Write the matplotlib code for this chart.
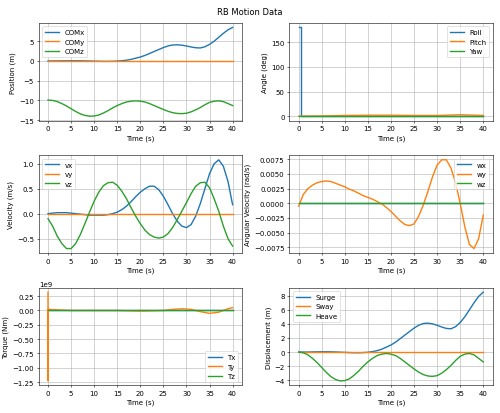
import numpy as np
from matplotlib import pyplot as plt

t = np.arange(0, 41)

com_x = [0, 0, 0, 0.02, 0.03, 0.04, 0.04, 0.03, 0.01, -0.02, -0.05, -0.08, -0.1, -0.1, -0.08, -0.03,
         0.06, 0.2, 0.4, 0.7, 1.0, 1.4, 1.9, 2.4, 2.9, 3.4, 3.8, 4.05, 4.1, 4.0, 3.8, 3.55, 3.35, 3.3,
         3.6, 4.2, 5.0, 6.0, 7.0, 7.9, 8.5]
com_y = [0] * 41
com_z = [-9.9, -10.0, -10.3, -10.8, -11.4, -12.1, -12.8, -13.4, -13.8, -14.0, -13.95, -13.7, -13.2,
         -12.6, -11.9, -11.3, -10.8, -10.4, -10.2, -10.1, -10.2, -10.4, -10.8, -11.3, -11.8, -12.3,
         -12.75, -13.1, -13.3, -13.35, -13.25, -12.9, -12.4, -11.8, -11.1, -10.5, -10.2, -10.1,
         -10.3, -10.8, -11.3]

roll_t = [0, 0.6, 0.6, 40]
roll = [180, 180, 0, 0]
ang_t = [0, 5, 10, 15, 20, 25, 30, 35, 40]
pitch = [0, 0.5, 1.5, 2, 2, 1.5, 1.5, 3, 1.5]
yaw = [0, 0, 0, 0, 0, 0, 0, 0, 0]

vx = [0, 0.01, 0.02, 0.02, 0.02, 0.01, 0.0, -0.01, -0.02, -0.03, -0.03, -0.03, -0.03, -0.02, 0.0,
      0.03, 0.08, 0.15, 0.24, 0.34, 0.43, 0.5, 0.55, 0.55, 0.48, 0.35, 0.18, 0.0, -0.15, -0.25,
      -0.28, -0.22, -0.05, 0.2, 0.5, 0.8, 1.0, 1.08, 0.95, 0.65, 0.18]
vy = [0] * 41
vz = [-0.1, -0.25, -0.45, -0.6, -0.7, -0.7, -0.6, -0.42, -0.2, 0.03, 0.25, 0.43, 0.56, 0.62, 0.63,
      0.57, 0.45, 0.3, 0.12, -0.05, -0.2, -0.33, -0.42, -0.47, -0.49, -0.47, -0.4, -0.28, -0.12,
      0.05, 0.22, 0.4, 0.55, 0.62, 0.63, 0.52, 0.3, 0.05, -0.25, -0.5, -0.65]

wx = [0] * 41
wy = [-0.0005, 0.0015, 0.0025, 0.0031, 0.0035, 0.0037, 0.0038, 0.0037, 0.0034, 0.0031, 0.0028,
      0.0024, 0.0021, 0.0017, 0.0013, 0.001, 0.0007, 0.0003, -0.0001, -0.0007, -0.0014, -0.0022,
      -0.003, -0.0036, -0.0038, -0.0035, -0.0022, -0.0003, 0.002, 0.0045, 0.0065, 0.0074, 0.0074,
      0.006, 0.0035, 0.0, -0.004, -0.007, -0.0077, -0.006, -0.002]
wz = [0] * 41

torque_t = [0, 0.02, 0.04, 5, 10, 15, 20, 25, 27, 29, 31, 33, 35, 37, 39, 40]
tx = [0] * 16
ty = [0.32e9, -1.23e9, 0.02e9, 0, 0, 0, -0.01e9, 0, 0.02e9, 0.03e9, 0.02e9, -0.02e9, -0.05e9,
      -0.03e9, 0.03e9, 0.05e9]
tz = [0] * 16

surge = com_x
sway = [0] * 41
heave = [0, -0.1, -0.4, -0.9, -1.5, -2.2, -2.9, -3.5, -3.9, -4.1, -4.05, -3.8, -3.3, -2.7, -2.0,
         -1.4, -0.9, -0.5, -0.3, -0.2, -0.3, -0.5, -0.9, -1.4, -1.9, -2.4, -2.85, -3.2, -3.4, -3.45,
         -3.35, -3.0, -2.5, -1.9, -1.2, -0.6, -0.3, -0.2, -0.4, -0.9, -1.4]

fig, axs = plt.subplots(3, 2, figsize=(10, 8.28), dpi=50)
fig.suptitle('RB Motion Data')

panels = [
    (axs[0, 0], [(t, com_x, 'COMx'), (t, com_y, 'COMy'), (t, com_z, 'COMz')], 'Position (m)', 'upper left'),
    (axs[0, 1], [(roll_t, roll, 'Roll'), (ang_t, pitch, 'Pitch'), (ang_t, yaw, 'Yaw')], 'Angle (deg)', 'upper right'),
    (axs[1, 0], [(t, vx, 'vx'), (t, vy, 'vy'), (t, vz, 'vz')], 'Velocity (m/s)', 'upper left'),
    (axs[1, 1], [(t, wx, 'wx'), (t, wy, 'wy'), (t, wz, 'wz')], 'Angular Velocity (rad/s)', 'upper right'),
    (axs[2, 0], [(torque_t, tx, 'Tx'), (torque_t, ty, 'Ty'), (torque_t, tz, 'Tz')], 'Torque (Nm)', 'lower right'),
    (axs[2, 1], [(t, surge, 'Surge'), (t, sway, 'Sway'), (t, heave, 'Heave')], 'Displacement (m)', 'upper left'),
]
for ax, series, ylab, loc in panels:
    for x, y, lab in series:
        ax.plot(x, y, label=lab, lw=2)
    ax.set_xlabel('Time (s)')
    ax.set_ylabel(ylab)
    ax.set_xticks(range(0, 41, 5))
    ax.grid(True)
    ax.legend(loc=loc)

fig.tight_layout()
plt.savefig('out.png')
